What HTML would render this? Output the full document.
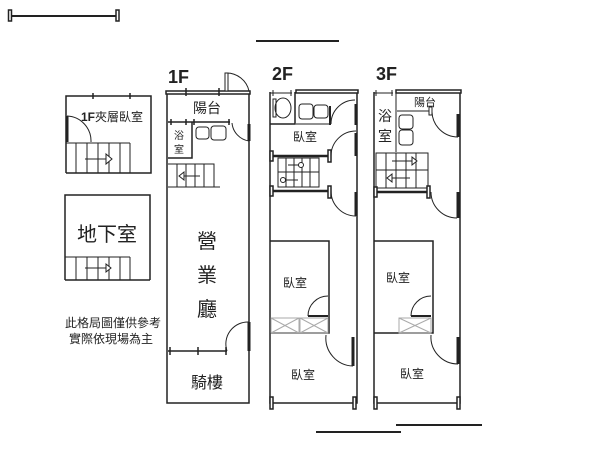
<!DOCTYPE html>
<html><head><meta charset="utf-8"><style>
html,body{margin:0;padding:0;background:#fff;width:600px;height:450px;overflow:hidden}
svg{display:block}
text{font-family:"Liberation Sans","Noto Sans CJK TC",sans-serif;fill:#222}
</style></head><body>
<svg width="600" height="450" viewBox="0 0 600 450" xmlns="http://www.w3.org/2000/svg">
<g stroke="#222" fill="none" stroke-width="1.5">
<!-- scale bar -->
<line x1="10" y1="16" x2="118" y2="16" stroke-width="2"/>
<rect x="8.5" y="10" width="3" height="11" fill="#fff"/>
<rect x="116" y="10" width="3" height="11" fill="#fff"/>
<line x1="256" y1="41" x2="339" y2="41" stroke-width="2"/>
<line x1="316" y1="432" x2="401" y2="432" stroke-width="2"/>
<line x1="396" y1="425" x2="482" y2="425" stroke-width="2"/>

<!-- 1F mezzanine -->
<polyline points="66,173 66,96 151,96 151,173 130,173"/>
<line x1="66" y1="173" x2="130" y2="173"/>
<line x1="93" y1="93" x2="93" y2="99"/><line x1="130" y1="93" x2="130" y2="99"/>
<path d="M67,116 A25,25 0 0 1 91,142" stroke-width="1"/>
<line x1="67" y1="116" x2="67" y2="142" stroke-width="3"/>
<g stroke-width="1"><line x1="66" y1="143" x2="130" y2="143"/>
<line x1="76" y1="143" x2="76" y2="173"/><line x1="87" y1="143" x2="87" y2="173"/><line x1="98" y1="143" x2="98" y2="173"/><line x1="109" y1="143" x2="109" y2="173"/><line x1="120" y1="143" x2="120" y2="173"/><line x1="130" y1="143" x2="130" y2="173"/>
<line x1="85" y1="159" x2="106" y2="159"/><path d="M106,154 L112,159 L106,164 Z" fill="#fff"/></g>

<!-- basement -->
<polyline points="65,280 65,195 150,195 150,280"/>
<line x1="65" y1="280" x2="150" y2="280"/>
<g stroke-width="1"><line x1="65" y1="257" x2="130" y2="257"/>
<line x1="76" y1="257" x2="76" y2="280"/><line x1="87" y1="257" x2="87" y2="280"/><line x1="98" y1="257" x2="98" y2="280"/><line x1="109" y1="257" x2="109" y2="280"/><line x1="120" y1="257" x2="120" y2="280"/><line x1="130" y1="257" x2="130" y2="280"/>
<line x1="85" y1="268" x2="106" y2="268"/><path d="M106,264 L111,268 L106,272 Z" fill="#fff"/></g>

<!-- 1F -->
<rect x="166" y="91" width="84" height="3" fill="#fff"/>
<polyline points="167,94 167,403 249,403 249,94"/>
<line x1="186" y1="88" x2="186" y2="96"/><line x1="219" y1="88" x2="219" y2="96"/>
<path d="M226,73 A23,23 0 0 1 249,91" stroke-width="1"/><rect x="225" y="73" width="3" height="18" fill="#fff" stroke-width="1"/>
<line x1="168" y1="122" x2="230" y2="122"/>
<line x1="171" y1="119" x2="171" y2="125"/><line x1="186" y1="119" x2="186" y2="125"/><line x1="194" y1="119" x2="194" y2="125"/><line x1="229" y1="119" x2="229" y2="125"/>
<polyline points="168,158 192,158 192,122"/>
<rect x="196" y="127" width="13" height="12" rx="3" stroke-width="1"/><rect x="211" y="126" width="15" height="14" rx="3" stroke-width="1"/>
<path d="M232,123 A20,20 0 0 0 249,141" stroke-width="1"/><line x1="249" y1="124" x2="249" y2="141" stroke-width="3"/>
<g stroke-width="1"><polyline points="168,164 214,164 214,187 220,187"/><line x1="168" y1="187" x2="214" y2="187"/>
<line x1="177" y1="164" x2="177" y2="187"/><line x1="186" y1="164" x2="186" y2="187"/><line x1="195" y1="164" x2="195" y2="187"/><line x1="204" y1="164" x2="204" y2="187"/>
<line x1="184" y1="176" x2="200" y2="176"/><path d="M184,172 L179,176 L184,180 Z" fill="#fff"/></g>
<line x1="168" y1="351" x2="227" y2="351"/>
<line x1="170" y1="347" x2="170" y2="355"/><line x1="198" y1="347" x2="198" y2="355"/><line x1="226" y1="347" x2="226" y2="355"/>
<path d="M249,322 A22,22 0 0 0 227,351" stroke-width="1"/><line x1="249" y1="322" x2="249" y2="351" stroke-width="3"/>

<!-- 2F -->
<polyline points="270,92 270,403 357,403 357,92 297,92"/>
<rect x="296" y="90" width="62" height="3" fill="#fff"/>
<line x1="270" y1="93" x2="292" y2="93" stroke-width="1"/>
<line x1="273" y1="90" x2="273" y2="96" stroke-width="1"/><line x1="291" y1="90" x2="291" y2="96" stroke-width="1"/>
<polyline points="270,124 295,124 295,92"/>
<ellipse cx="283" cy="108" rx="8" ry="10" stroke-width="1"/><rect x="273" y="99" width="3" height="18" stroke-width="1"/>
<line x1="296" y1="124" x2="330" y2="124" stroke-width="1"/>
<rect x="299" y="104" width="14" height="15" rx="3" stroke-width="1"/><rect x="314" y="105" width="14" height="13" rx="3" stroke-width="1"/>
<line x1="330" y1="106" x2="330" y2="125" stroke-width="2"/>
<path d="M331,124 A24,24 0 0 1 355,100" stroke-width="1"/><line x1="356" y1="104" x2="356" y2="125" stroke-width="3"/>
<line x1="271" y1="156" x2="330" y2="156" stroke-width="2.5"/>
<rect x="270" y="151" width="3" height="10" fill="#fff"/><rect x="328" y="150" width="3" height="12" fill="#fff"/>
<path d="M331,156 A25,25 0 0 1 356,131" stroke-width="1"/><line x1="356" y1="133" x2="356" y2="156" stroke-width="3"/>
<g stroke-width="1"><rect x="278" y="158" width="41" height="29"/>
<line x1="278" y1="172" x2="319" y2="172"/>
<line x1="286" y1="158" x2="286" y2="187"/><line x1="294" y1="158" x2="294" y2="187"/><line x1="302" y1="158" x2="302" y2="187"/><line x1="310" y1="158" x2="310" y2="187"/>
<line x1="288" y1="165" x2="300" y2="165"/><circle cx="301" cy="165" r="2.5" fill="#fff"/>
<line x1="284" y1="180" x2="298" y2="180"/><circle cx="283" cy="180" r="2.5" fill="#fff"/></g>
<line x1="271" y1="191" x2="330" y2="191" stroke-width="2.5"/>
<rect x="270" y="186" width="3" height="10" fill="#fff"/><rect x="328" y="186" width="3" height="12" fill="#fff"/>
<path d="M331,191 A25,25 0 0 0 356,216" stroke-width="1"/><line x1="356" y1="192" x2="356" y2="216" stroke-width="3"/>
<polyline points="270,241 329,241 329,333 270,333"/>
<path d="M308,316 A20,20 0 0 1 328,296" stroke-width="1"/><line x1="308" y1="316" x2="328" y2="316" stroke-width="2"/>
<g stroke="#aaa" stroke-width="1"><rect x="271" y="318" width="28" height="15"/><path d="M271,318 L299,333 M299,318 L271,333"/>
<rect x="300" y="318" width="28" height="15"/><path d="M300,318 L328,333 M328,318 L300,333"/></g>
<path d="M326,335 A28,28 0 0 0 353,366" stroke-width="1"/><line x1="353" y1="337" x2="353" y2="366" stroke-width="3"/>
<rect x="270" y="397" width="3" height="12" fill="#fff"/><rect x="353" y="397" width="3" height="12" fill="#fff"/>

<!-- 3F -->
<polyline points="374,92 374,403 460,403 460,92 397,92"/>
<rect x="396" y="90" width="65" height="3" fill="#fff"/>
<line x1="374" y1="93" x2="393" y2="93" stroke-width="1"/>
<line x1="376" y1="90" x2="376" y2="96" stroke-width="1"/><line x1="392" y1="90" x2="392" y2="96" stroke-width="1"/>
<line x1="396" y1="92" x2="396" y2="152" stroke-width="1"/>
<line x1="397" y1="111" x2="430" y2="111" stroke-width="1"/><rect x="429" y="107" width="3" height="8" stroke-width="1" fill="#fff"/>
<rect x="399" y="115" width="14" height="14" rx="3" stroke-width="1"/><rect x="399" y="130" width="14" height="15" rx="3" stroke-width="1"/>
<path d="M432,112 A26,26 0 0 0 458,137" stroke-width="1"/><line x1="458" y1="114" x2="458" y2="137" stroke-width="3"/>
<g stroke-width="1"><rect x="376" y="153" width="52" height="35"/>
<line x1="376" y1="170" x2="428" y2="170"/>
<line x1="386" y1="153" x2="386" y2="188"/><line x1="396" y1="153" x2="396" y2="188"/><line x1="406" y1="153" x2="406" y2="188"/><line x1="416" y1="153" x2="416" y2="188"/>
<line x1="392" y1="161" x2="412" y2="161"/><path d="M412,157 L417,161 L412,165 Z" fill="#fff"/>
<line x1="392" y1="178" x2="410" y2="178"/><path d="M392,174 L387,178 L392,182 Z" fill="#fff"/></g>
<line x1="375" y1="192" x2="428" y2="192" stroke-width="2.5"/>
<rect x="374" y="187" width="3" height="10" fill="#fff"/><rect x="427" y="186" width="3" height="12" fill="#fff"/>
<path d="M431,192 A26,26 0 0 0 457,218" stroke-width="1"/><line x1="458" y1="192" x2="458" y2="218" stroke-width="3"/>
<polyline points="374,241 433,241 433,333 374,333"/>
<path d="M411,316 A20,20 0 0 1 431,296" stroke-width="1"/><line x1="411" y1="316" x2="431" y2="316" stroke-width="2"/>
<g stroke="#aaa" stroke-width="1"><rect x="399" y="318" width="32" height="15"/><path d="M399,318 L431,333 M431,318 L399,333"/></g>
<path d="M431,335 A27,27 0 0 0 458,364" stroke-width="1"/><line x1="458" y1="337" x2="458" y2="364" stroke-width="3"/>
<rect x="374" y="397" width="3" height="12" fill="#fff"/><rect x="457" y="397" width="3" height="12" fill="#fff"/>
</g>

<g>
<text x="168" y="83" font-size="18" font-weight="bold">1F</text>
<text x="272" y="80" font-size="18" font-weight="bold">2F</text>
<text x="376" y="80" font-size="18" font-weight="bold">3F</text>
<text x="112" y="121" font-size="12" text-anchor="middle"><tspan font-weight="bold">1F</tspan>夾層臥室</text>
<text x="107" y="241" font-size="20" text-anchor="middle">地下室</text>
<text x="113" y="327" font-size="12" text-anchor="middle">此格局圖僅供參考</text>
<text x="111" y="343" font-size="12" text-anchor="middle">實際依現場為主</text>
<text x="207" y="113" font-size="14" text-anchor="middle">陽台</text>
<text x="179" y="139" font-size="10" text-anchor="middle">浴</text>
<text x="179" y="153" font-size="10" text-anchor="middle">室</text>
<text x="207" y="248" font-size="20" text-anchor="middle">營</text>
<text x="207" y="282" font-size="20" text-anchor="middle">業</text>
<text x="207" y="316" font-size="20" text-anchor="middle">廳</text>
<text x="207" y="388" font-size="16" text-anchor="middle">騎樓</text>
<text x="305" y="141" font-size="12" text-anchor="middle">臥室</text>
<text x="295" y="287" font-size="12" text-anchor="middle">臥室</text>
<text x="303" y="379" font-size="12" text-anchor="middle">臥室</text>
<text x="425" y="106" font-size="11" text-anchor="middle">陽台</text>
<text x="385" y="121" font-size="14" text-anchor="middle">浴</text>
<text x="385" y="141" font-size="14" text-anchor="middle">室</text>
<text x="398" y="282" font-size="12" text-anchor="middle">臥室</text>
<text x="412" y="378" font-size="12" text-anchor="middle">臥室</text>
</g>
</svg>
</body></html>
